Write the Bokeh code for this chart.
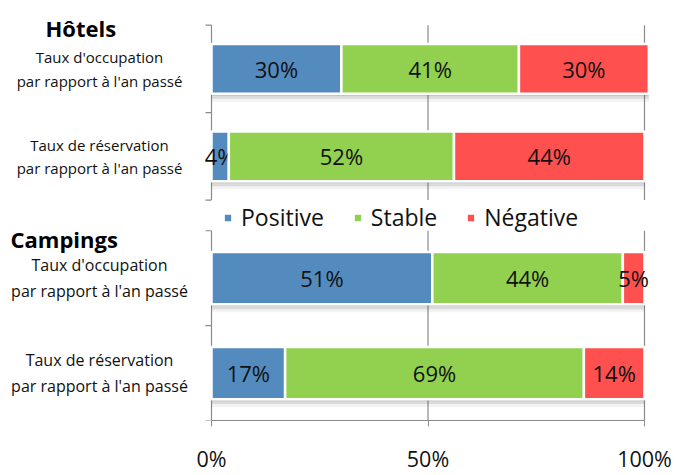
import math
from bokeh.plotting import figure
from bokeh.models import (Range1d, FixedTicker, Legend, LegendItem,
                          ColumnDataSource, PrintfTickFormatter)
from bokeh.core.properties import value
from bokeh.embed import file_html
from bokeh.resources import INLINE

# ---- data ----
categories = ["Taux d'occupation\npar rapport à l'an passé",
              "Taux de réservation\npar rapport à l'an passé"]
series = ["Positive", "Stable", "Négative"]
hotels_positive = [30, 4]
hotels_stable = [41, 52]
hotels_negative = [30, 44]
campings_positive = [51, 17]
campings_stable = [44, 69]
campings_negative = [5, 14]
x_ticks = [0, 50, 100]

# ---- style / layout (pixels) ----
FONT = "Open Sans"
COLORS = ["#548BBE", "#92D050", "#FF5050"]
GRAY = "#8A8A8A"
TXT = "#111111"
W, H = 676, 475
BOTTOM = 50                       # room for the bottom axis labels
FRAME_H = H - BOTTOM
X0_PX, X100_PX = 211, 644         # where 0 % and 100 % fall
PX_PER_PCT = (X100_PX - X0_PX) / 100
PANELS = {"hot": (25, 202), "camp": (233, 425)}   # top / bottom pixel of each panel
n = len(categories)
ypos = [i + 0.5 for i in range(n)]


def panel_range(top_px, bot_px):
    unit = (bot_px - top_px) / n
    return Range1d(n + (FRAME_H - bot_px) / unit, -top_px / unit)


def px_to_x(px):
    return (px - X0_PX) / PX_PER_PCT


p = figure(width=W, height=H, title=None,
           x_range=Range1d(px_to_x(0), px_to_x(W)),
           y_range=panel_range(*PANELS["hot"]),
           output_backend="svg", toolbar_location=None, y_axis_location=None,
           min_border_left=0, min_border_right=0, min_border_top=0,
           min_border_bottom=BOTTOM, outline_line_color=None)
p.extra_y_ranges = {"camp": panel_range(*PANELS["camp"])}
p.xgrid.visible = False
p.ygrid.visible = False

# bottom percentage axis (only under the bars)
ax = p.xaxis[0]
ax.bounds = (x_ticks[0], x_ticks[-1])
ax.ticker = FixedTicker(ticks=x_ticks, minor_ticks=[])
ax.formatter = PrintfTickFormatter(format="%d%%")
ax.axis_line_color = GRAY
ax.major_tick_line_color = GRAY
ax.major_tick_in = 0
ax.major_tick_out = 6
ax.minor_tick_line_color = None
ax.major_label_text_font = FONT
ax.major_label_text_font_size = "21.5px"
ax.major_label_text_color = TXT
ax.major_label_standoff = 17


def draw_panel(rname, title, vals, title_px_x, title_dy, bar_h, cat_size):
    kw = {} if rname == "default" else {"y_range_name": rname}
    # vertical grid lines (50 %, 100 %)
    p.segment(x0=x_ticks[1:], y0=[0] * (len(x_ticks) - 1), x1=x_ticks[1:],
              y1=[n] * (len(x_ticks) - 1), line_color=GRAY, line_width=1.2, **kw)
    # category axis line + tick marks at band boundaries
    p.segment(x0=[0], y0=[0], x1=[0], y1=[n], line_color=GRAY, line_width=1.2, **kw)
    p.ray(x=[0] * (n + 1), y=list(range(n + 1)), length=6, length_units="screen",
          angle=math.pi, line_color=GRAY, line_width=1.2, **kw)

    pos, stab, neg = vals
    totals = [a + b + c for a, b, c in zip(pos, stab, neg)]
    # soft shadow
    lo, hi = PANELS["hot" if rname == "default" else "camp"]
    unit_px = (hi - lo) / n
    for k, a in [(2, 0.2), (5, 0.14), (8, 0.07)]:
        p.hbar(y=[y + k / unit_px for y in ypos], left=[0] * n, right=totals,
               height=bar_h, fill_color="#505050", fill_alpha=a, line_color=None, **kw)

    rends = []
    left = [0] * n
    for name, v, col in zip(series, vals, COLORS):
        right = [l + x for l, x in zip(left, v)]
        src = ColumnDataSource(dict(y=ypos, left=left, right=right,
                                    mid=[(l + r) / 2 for l, r in zip(left, right)],
                                    lab=[f"{x}%" for x in v]))
        r = p.hbar(y="y", left="left", right="right", height=bar_h, source=src,
                   fill_color=col, line_color="white", line_width=2.5, **kw)
        p.text(x="mid", y="y", text="lab", source=src, text_align="center",
               text_baseline="middle", text_font=value(FONT), text_font_size="22px",
               text_color=TXT, **kw)
        rends.append(r)
        left = right

    # category labels and panel title
    csrc = ColumnDataSource(dict(y=ypos, cat=categories))
    p.text(x=px_to_x(99), y="y", text="cat", source=csrc, text_align="center",
           text_baseline="middle", text_font=value(FONT), text_font_size=cat_size,
           text_line_height=1.18, text_color=TXT, **kw)
    p.text(x=[px_to_x(title_px_x)], y=[0], text=[title], y_offset=title_dy,
           text_align="left", text_baseline="alphabetic", text_font=value(FONT),
           text_font_style="bold", text_font_size="22px", text_color="#000000", **kw)
    return rends


r1 = draw_panel("default", "Hôtels", [hotels_positive, hotels_stable, hotels_negative],
                45, 3, 0.57, "15px")
r2 = draw_panel("camp", "Campings", [campings_positive, campings_stable, campings_negative],
                10, 8, 0.55, "16px")

legend = Legend(items=[LegendItem(label=s, renderers=[r]) for s, r in zip(series, r2)],
                orientation="horizontal", location=(222, FRAME_H - 238), padding=0,
                margin=0, glyph_width=11, glyph_height=11, label_standoff=8, spacing=28,
                label_text_font=FONT, label_text_font_size="23px",
                label_text_color=TXT, border_line_color=None, background_fill_alpha=0)
p.add_layout(legend, "center")

open("out.html", "w").write(file_html(p, INLINE))
